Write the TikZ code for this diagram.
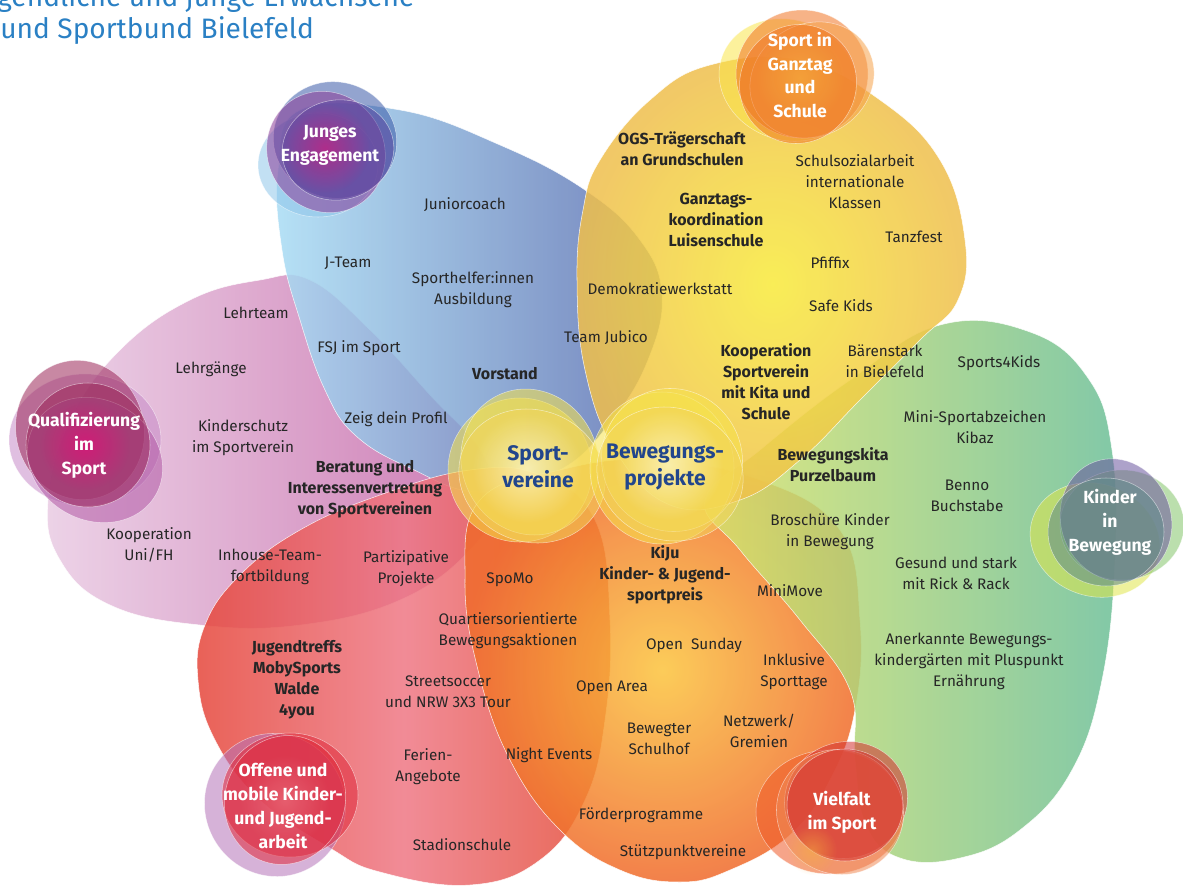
\documentclass[tikz,border=0pt]{standalone}
\usepackage{fontspec}
\setmainfont{Fira Sans}
\usetikzlibrary{fadings}
\definecolor{ink}{HTML}{262626}
\definecolor{headblue}{HTML}{2A80C4}
\definecolor{coreblue}{HTML}{22468C}
\definecolor{pinkL}{HTML}{E9CBE3}
\definecolor{pinkD}{HTML}{C463A6}
\definecolor{blueL}{HTML}{A9DCF4}
\definecolor{blueD}{HTML}{5A6DB0}
\definecolor{redL}{HTML}{E5463A}
\definecolor{redM}{HTML}{EE7784}
\definecolor{redR}{HTML}{E34A34}
\definecolor{oraIn}{HTML}{FBC33C}
\definecolor{oraOut}{HTML}{F06A2B}
\definecolor{greenL}{HTML}{D9E36A}
\definecolor{greenR}{HTML}{6CBF98}
\definecolor{yelIn}{HTML}{F8EA3A}
\definecolor{yelOut}{HTML}{EFBE4C}
\definecolor{skyC}{HTML}{8FC6EA}
\definecolor{inkblue}{HTML}{3A5AA8}
\definecolor{plum}{HTML}{8A3C98}
\definecolor{violet}{HTML}{5B47A0}
\definecolor{sunY}{HTML}{FAE54A}
\definecolor{tangerine}{HTML}{F07424}
\definecolor{apricot}{HTML}{F6A24A}
\definecolor{lilac}{HTML}{C78AC8}
\definecolor{wine}{HTML}{9A2658}
\definecolor{orchid}{HTML}{B25AA6}
\definecolor{lime}{HTML}{E0E64A}
\definecolor{leaf}{HTML}{84C46A}
\definecolor{grape}{HTML}{6A559E}
\definecolor{slate}{HTML}{5F8A8A}
\definecolor{orchidB}{HTML}{B472B8}
\definecolor{crimson}{HTML}{E02A3C}
\definecolor{flame}{HTML}{EF5A28}
\definecolor{scarlet}{HTML}{D42F2F}
\definecolor{peach}{HTML}{F08A56}
\definecolor{amber}{HTML}{F5B13E}
\definecolor{lemon}{HTML}{F6E24A}
\definecolor{butter}{HTML}{F3D45A}
\tikzfading[name=glow, inner color=transparent!0, outer color=transparent!100]

\begin{document}
\begin{tikzpicture}[x=0.02cm,y=-0.02cm,
  lbl/.style={font=\fontsize{8.7}{11.9}\selectfont,align=center,text=ink,inner sep=0pt},
  blbl/.style={lbl,font=\fontsize{9.1}{11.9}\selectfont\bfseries},
  hub/.style={font=\fontsize{10}{13.6}\selectfont\bfseries,text=white,align=center,inner sep=0pt},
  core/.style={font=\fontsize{12}{15.3}\selectfont\bfseries,text=coreblue,align=center,inner sep=0pt},
  title/.style={font=\fontsize{16}{17}\selectfont,text=headblue,inner sep=0pt,anchor=base west},
  field/.style={draw=white,draw opacity=.35,line width=.3pt,fill opacity=.85,opacity=.85},
  petal/.style={draw=white,draw opacity=.55,line width=.3pt,fill opacity=.55}]

\useasboundingbox (0,0) rectangle (1183,889);
\clip (0,0) rectangle (1183,889);

% big fields
\shade[field,left color=pinkL,right color=pinkD] plot[smooth cycle,tension=.7] coordinates
  {(60,560) (48,500) (70,420) (120,350) (190,300) (260,280) (310,280) (370,330) (430,395) (480,450) (495,500) (470,550) (400,600) (300,625) (200,625) (110,605)};
\shade[field,left color=blueL,right color=blueD] plot[smooth cycle,tension=.7] coordinates
  {(300,110) (400,110) (500,145) (585,190) (640,240) (662,295) (648,360) (612,420) (560,470) (480,492) (410,468) (355,435) (325,390) (300,320) (282,250) (278,170)};
\shade[field,left color=redL,right color=redR,middle color=redM] plot[smooth cycle,tension=.7] coordinates
  {(198,680) (205,625) (240,575) (300,530) (380,495) (470,470) (540,475) (595,520) (610,620) (605,720) (585,800) (540,860) (470,885) (380,872) (330,848) (260,800) (215,740)};
\shade[field,inner color=oraIn,outer color=oraOut] plot[smooth cycle,tension=.7] coordinates
  {(480,500) (560,470) (650,460) (760,480) (840,530) (860,620) (855,710) (830,780) (790,835) (730,870) (680,882) (620,870) (560,830) (510,760) (478,670) (465,580)};
\shade[field,left color=greenL,right color=greenR] plot[smooth cycle,tension=.7] coordinates
  {(705,500) (760,450) (850,380) (940,325) (1030,332) (1088,378) (1112,450) (1115,560) (1102,680) (1072,770) (1020,830) (960,858) (900,858) (866,825) (855,760) (850,690) (800,620) (740,550)};
\shade[field,inner color=yelIn,outer color=yelOut] plot[smooth cycle,tension=.7] coordinates
  {(600,160) (650,100) (710,65) (800,60) (880,100) (940,160) (965,240) (958,300) (920,340) (860,400) (800,460) (740,500) (670,505) (615,450) (585,370) (577,280) (583,210)};

% centre circles
\foreach \cx/\cy/\rx/\ry/\rr/\cc in {520/470/72/72/0/lemon,530/462/68/74/25/lemon,532/476/74/66/-20/butter,
    662/468/72/76/0/lemon,672/460/70/72/30/lemon,670/474/74/66/-20/butter}
  \fill[petal,fill=\cc,rotate around={\rr:(\cx,\cy)}] (\cx,\cy) ellipse [x radius=\rx,y radius=\ry];
\fill[white!90!yellow,path fading=glow,fill opacity=.6] (527,468) circle [radius=55];
\fill[white!90!yellow,path fading=glow,fill opacity=.6] (668,465) circle [radius=55];

% outer hubs
\foreach \cx/\cy/\rx/\ry/\rr/\cc in {318/165/60/52/0/skyC,335/140/62/58/-15/inkblue,326/152/58/62/35/plum,338/150/56/50/10/violet}
  \fill[petal,fill=\cc,rotate around={\rr:(\cx,\cy)}] (\cx,\cy) ellipse [x radius=\rx,y radius=\ry];
\fill[magenta!70!purple,path fading=glow,fill opacity=.6] (325,148) circle [radius=45];

\foreach \cx/\cy/\rx/\ry/\rr/\cc in {788/80/70/60/-20/sunY,802/74/66/64/0/tangerine,812/80/64/56/30/apricot,798/84/60/58/60/tangerine}
  \fill[petal,fill=\cc,rotate around={\rr:(\cx,\cy)}] (\cx,\cy) ellipse [x radius=\rx,y radius=\ry];
\fill[amber,path fading=glow,fill opacity=.6] (800,78) circle [radius=45];

\foreach \cx/\cy/\rx/\ry/\rr/\cc in {85/440/76/66/0/lilac,80/430/64/70/15/wine,95/460/70/60/-30/orchid,88/445/62/62/0/wine}
  \fill[petal,fill=\cc,rotate around={\rr:(\cx,\cy)}] (\cx,\cy) ellipse [x radius=\rx,y radius=\ry];
\fill[magenta!80!red,path fading=glow,fill opacity=.6] (85,445) circle [radius=45];

\foreach \cx/\cy/\rx/\ry/\rr/\cc in {1095/540/66/56/-20/lime,1122/525/62/55/0/leaf,1116/520/55/62/20/grape,1106/532/58/54/0/slate}
  \fill[petal,fill=\cc,rotate around={\rr:(\cx,\cy)}] (\cx,\cy) ellipse [x radius=\rx,y radius=\ry];

\foreach \cx/\cy/\rx/\ry/\rr/\cc in {275/805/70/72/30/orchidB,290/795/68/62/0/crimson,285/800/60/65/-20/crimson}
  \fill[petal,fill=\cc,rotate around={\rr:(\cx,\cy)}] (\cx,\cy) ellipse [x radius=\rx,y radius=\ry];
\fill[redM,path fading=glow,fill opacity=.6] (285,800) circle [radius=45];

\foreach \cx/\cy/\rx/\ry/\rr/\cc in {830/812/74/62/0/flame,846/800/62/58/20/scarlet,840/812/64/62/-30/peach,845/805/58/56/0/scarlet}
  \fill[petal,fill=\cc,rotate around={\rr:(\cx,\cy)}] (\cx,\cy) ellipse [x radius=\rx,y radius=\ry];
\fill[amber,path fading=glow,fill opacity=.5] (812,850) circle [radius=25];

% heading
\node[title] (head1) at (-28,7) {Jugendliche und junge Erwachsene};
\node[title] (head2) at (0,38) {und Sportbund Bielefeld};

% hub labels
\node[hub] (engage) at (330,145) {Junges\\Engagement};
\node[hub] (ganztag) at (800,75) {Sport in\\Ganztag\\und\\Schule};
\node[hub] (quali) at (84,445) {Qualifizierung\\im\\Sport};
\node[hub] (kinder) at (1110,522) {Kinder\\in\\Bewegung};
\node[hub] (offen) at (283,806) {Offene und\\mobile Kinder-\\und Jugend-\\arbeit};
\node[hub] (vielfalt) at (842,812) {Vielfalt\\im Sport};
\node[core] (verein) at (538,467) {Sport-\\vereine};
\node[core] (projekt) at (665,467) {Bewegungs-\\projekte};

% blue field
\node[lbl] (jcoach) at (465,205) {Juniorcoach};
\node[lbl] (jteam) at (348,263) {J-Team};
\node[lbl] (helfer) at (473,290) {Sporthelfer:innen\\Ausbildung};
\node[lbl] (fsj) at (359,348) {FSJ im Sport};
\node[blbl] (vorstand) at (505,374) {Vorstand};
\node[lbl] (profil) at (396,419) {Zeig dein Profil};
\node[lbl] (jubico) at (606,338) {Team Jubico};
\node[lbl] (demo) at (660,289) {Demokratiewerkstatt};

% pink field
\node[lbl] (lteam) at (256,313) {Lehrteam};
\node[lbl] (lgang) at (211,369) {Lehrgänge};
\node[lbl] (kschutz) at (243,438) {Kinderschutz\\im Sportverein};
\node[blbl] (beratung) at (365,489) {Beratung und\\Interessenvertretung\\von Sportvereinen};
\node[lbl] (uni) at (149,545) {Kooperation\\Uni/FH};
\node[lbl] (inhouse) at (270,567) {Inhouse-Team-\\fortbildung};
\node[lbl] (partiz) at (406,569) {Partizipative\\Projekte};

% red field
\node[lbl] (spomo) at (510,580) {SpoMo};
\node[lbl] (quartier) at (508,631) {Quartiersorientierte\\Bewegungsaktionen};
\node[blbl] (treffs) at (297,680) {Jugendtreffs\\MobySports\\Walde\\4you};
\node[lbl] (street) at (448,692) {Streetsoccer\\und NRW 3X3 Tour};
\node[lbl] (ferien) at (428,767) {Ferien-\\Angebote};
\node[lbl] (night) at (549,755) {Night Events};
\node[lbl] (stadion) at (462,845) {Stadionschule};

% orange field
\node[blbl] (kiju) at (665,575) {KiJu\\Kinder- \& Jugend-\\sportpreis};
\node[lbl] (sunday) at (694,645) {Open~~Sunday};
\node[lbl] (area) at (612,688) {Open Area};
\node[lbl] (inklusiv) at (794,672) {Inklusive\\Sporttage};
\node[lbl] (schulhof) at (659,739) {Bewegter\\Schulhof};
\node[lbl] (netz) at (759,731) {Netzwerk/\\Gremien};
\node[lbl] (foerder) at (641,815) {Förderprogramme};
\node[lbl] (stuetz) at (683,852) {Stützpunktvereine};
\node[lbl] (minimove) at (790,591) {MiniMove};

% yellow field
\node[blbl] (ogs) at (682,149) {OGS-Trägerschaft\\an Grundschulen};
\node[lbl] (sozial) at (855,182) {Schulsozialarbeit\\internationale\\Klassen};
\node[blbl] (koord) at (716,220) {Ganztags-\\koordination\\Luisenschule};
\node[lbl] (tanz) at (914,237) {Tanzfest};
\node[lbl] (pfiffix) at (830,263) {Pfiffix};
\node[lbl] (safe) at (841,306) {Safe Kids};
\node[blbl] (koop) at (766,382) {Kooperation\\Sportverein\\mit Kita und\\Schule};
\node[lbl] (baeren) at (885,361) {Bärenstark\\in Bielefeld};

% green field
\node[lbl] (s4k) at (999,363) {Sports4Kids};
\node[lbl] (mini) at (975,427) {Mini-Sportabzeichen\\Kibaz};
\node[blbl] (kita) at (833,465) {Bewegungskita\\Purzelbaum};
\node[lbl] (benno) at (967,496) {Benno\\Buchstabe};
\node[lbl] (brosch) at (830,532) {Broschüre Kinder\\in Bewegung};
\node[lbl] (gesund) at (956,573) {Gesund und stark\\mit Rick \& Rack};
\node[lbl] (anerk) at (969,661) {Anerkannte Bewegungs-\\kindergärten mit Pluspunkt\\Ernährung};
\end{tikzpicture}
\end{document}
